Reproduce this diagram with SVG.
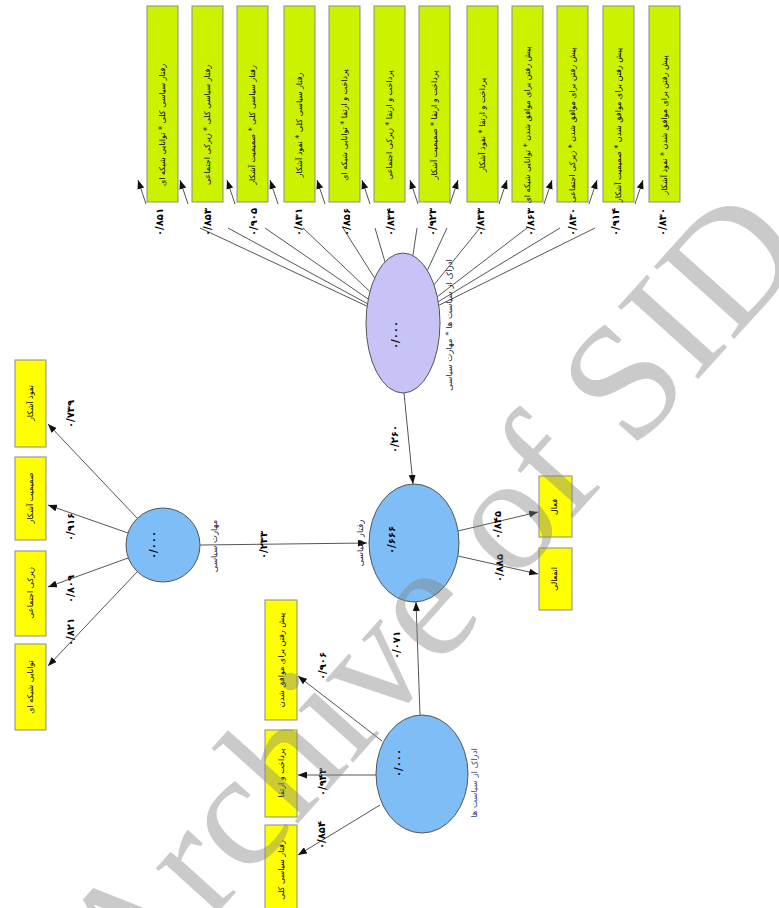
<svg xmlns="http://www.w3.org/2000/svg" width="779" height="908" viewBox="0 0 779 908">
<defs>
<marker id="ah" markerUnits="userSpaceOnUse" markerWidth="9" markerHeight="7" refX="9" refY="3.5" orient="auto">
<path d="M0,0 L9,3.5 L0,7 z" fill="#111"/>
</marker>
<style>
.bl{fill:#ccf200;stroke:#8a8a8a;stroke-width:1}
.by{fill:#ffff00;stroke:#8a8a8a;stroke-width:1}
.lv{fill:#7fbdf7;stroke:#555;stroke-width:1}
.lp{fill:#c7c3f6;stroke:#555;stroke-width:1}
.c{stroke:#555;stroke-width:1;fill:none;marker-end:url(#ah)}
.t{font-family:"DejaVu Sans",sans-serif;font-size:8px;fill:#000;text-anchor:middle}
.n{font-family:"DejaVu Sans",sans-serif;font-size:10px;font-weight:bold;fill:#000;text-anchor:middle}
.lb{font-family:"DejaVu Sans",sans-serif;font-size:8.5px;fill:#223;text-anchor:middle}
.wm{font-family:"Liberation Serif",serif;font-size:165px;fill:#808080;fill-opacity:0.42}
</style>
</defs>

<g id="connectors">
<path class="c" d="M367.1,306.2 L200,228 M146,204 L138,180"/>
<path class="c" d="M367.4,303.7 L228,228 M188,204 L180,180"/>
<path class="c" d="M368.2,299.1 L265,228 M235,204 L227,180"/>
<path class="c" d="M369.9,291.6 L303,228 M278,204 L270,180"/>
<path class="c" d="M374.6,278.1 L343,228 M325,204 L317,180"/>
<path class="c" d="M385,261.9 L375,228 M370,204 L362,180"/>
<path class="c" d="M412.9,255.6 L417,228 M418,204 L410,180"/>
<path class="c" d="M427.4,270.3 L447,228 M450,204 L458,180"/>
<path class="c" d="M434,284.8 L480,228 M499,204 L507,180"/>
<path class="c" d="M437.3,296.7 L527,228 M544,204 L552,180"/>
<path class="c" d="M438.2,301.7 L560,228 M589,204 L597,180"/>
<path class="c" d="M438.8,305.3 L595,228 M635,204 L643,180"/>

<path class="c" d="M137,518 L48,424"/>
<path class="c" d="M128,533 L48,505"/>
<path class="c" d="M128,558 L48,587"/>
<path class="c" d="M137,572 L48,666"/>

<path class="c" d="M200,545 L367,543"/>
<path class="c" d="M404,393 L413,484"/>
<path class="c" d="M420,715 L416,602"/>
<path class="c" d="M458,531 L538,512"/>
<path class="c" d="M458,556 L538,574"/>

<path class="c" d="M382,741 L298,676"/>
<path class="c" d="M376,775 L298,775"/>
<path class="c" d="M380,805 L298,855"/>
</g>

<g id="path-labels">
<text class="n" transform="translate(159,222) rotate(-90)" dy=".35em">۰/۸۵۱</text>
<text class="n" transform="translate(207,222) rotate(-90)" dy=".35em">۰/۸۵۳</text>
<text class="n" transform="translate(253,222) rotate(-90)" dy=".35em">۰/۹۰۵</text>
<text class="n" transform="translate(298,222) rotate(-90)" dy=".35em">۰/۸۳۱</text>
<text class="n" transform="translate(346,222) rotate(-90)" dy=".35em">۰/۸۵۶</text>
<text class="n" transform="translate(390,222) rotate(-90)" dy=".35em">۰/۸۳۴</text>
<text class="n" transform="translate(432,222) rotate(-90)" dy=".35em">۰/۹۲۳</text>
<text class="n" transform="translate(480,222) rotate(-90)" dy=".35em">۰/۸۳۳</text>
<text class="n" transform="translate(530,222) rotate(-90)" dy=".35em">۰/۸۶۳</text>
<text class="n" transform="translate(572,222) rotate(-90)" dy=".35em">۰/۸۳۰</text>
<text class="n" transform="translate(615,222) rotate(-90)" dy=".35em">۰/۹۱۴</text>
<text class="n" transform="translate(662,222) rotate(-90)" dy=".35em">۰/۸۳۰</text>

<text class="n" transform="translate(70,414) rotate(-90)" dy=".35em">۰/۷۳۹</text>
<text class="n" transform="translate(70,527) rotate(-90)" dy=".35em">۰/۹۱۶</text>
<text class="n" transform="translate(70,589) rotate(-90)" dy=".35em">۰/۸۰۹</text>
<text class="n" transform="translate(70,632) rotate(-90)" dy=".35em">۰/۸۲۱</text>

<text class="n" transform="translate(263,545) rotate(-90)" dy=".35em">۰/۲۳۳</text>
<text class="n" transform="translate(394,439) rotate(-90)" dy=".35em">۰/۲۶۰</text>
<text class="n" transform="translate(396,645) rotate(-90)" dy=".35em">۰/۰۷۱</text>
<text class="n" transform="translate(497,525) rotate(-90)" dy=".35em">۰/۸۴۵</text>
<text class="n" transform="translate(499,568) rotate(-90)" dy=".35em">۰/۸۸۵</text>

<text class="n" transform="translate(322,666) rotate(-90)" dy=".35em">۰/۹۰۶</text>
<text class="n" transform="translate(322,782) rotate(-90)" dy=".35em">۰/۹۴۳</text>
<text class="n" transform="translate(321,835) rotate(-90)" dy=".35em">۰/۸۵۴</text>
</g>

<g id="ind-top-1"><rect class="bl" x="147" y="6" width="31" height="196"/><text class="t" transform="translate(162.5,125) rotate(-90)" dy=".35em">رفتار سیاسی کلی * توانایی شبکه ای</text></g>
<g id="ind-top-2"><rect class="bl" x="192" y="6" width="31" height="196"/><text class="t" transform="translate(207.5,125) rotate(-90)" dy=".35em">رفتار سیاسی کلی * زیرکی اجتماعی</text></g>
<g id="ind-top-3"><rect class="bl" x="237" y="6" width="31" height="196"/><text class="t" transform="translate(252.5,125) rotate(-90)" dy=".35em">رفتار سیاسی کلی * صمیمیت آشکار</text></g>
<g id="ind-top-4"><rect class="bl" x="284" y="6" width="31" height="196"/><text class="t" transform="translate(299.5,125) rotate(-90)" dy=".35em">رفتار سیاسی کلی * نفوذ آشکار</text></g>
<g id="ind-top-5"><rect class="bl" x="329" y="6" width="31" height="196"/><text class="t" transform="translate(344.5,125) rotate(-90)" dy=".35em">پرداخت و ارتقا * توانایی شبکه ای</text></g>
<g id="ind-top-6"><rect class="bl" x="374" y="6" width="31" height="196"/><text class="t" transform="translate(389.5,125) rotate(-90)" dy=".35em">پرداخت و ارتقا * زیرکی اجتماعی</text></g>
<g id="ind-top-7"><rect class="bl" x="419" y="6" width="31" height="196"/><text class="t" transform="translate(434.5,125) rotate(-90)" dy=".35em">پرداخت و ارتقا * صمیمیت آشکار</text></g>
<g id="ind-top-8"><rect class="bl" x="467" y="6" width="31" height="196"/><text class="t" transform="translate(482.5,125) rotate(-90)" dy=".35em">پرداخت و ارتقا * نفوذ آشکار</text></g>
<g id="ind-top-9"><rect class="bl" x="512" y="6" width="31" height="196"/><text class="t" transform="translate(527.5,125) rotate(-90)" dy=".35em">پیش رفتن برای موافق شدن * توانایی شبکه ای</text></g>
<g id="ind-top-10"><rect class="bl" x="557" y="6" width="31" height="196"/><text class="t" transform="translate(572.5,125) rotate(-90)" dy=".35em">پیش رفتن برای موافق شدن * زیرکی اجتماعی</text></g>
<g id="ind-top-11"><rect class="bl" x="603" y="6" width="31" height="196"/><text class="t" transform="translate(618.5,125) rotate(-90)" dy=".35em">پیش رفتن برای موافق شدن * صمیمیت آشکار</text></g>
<g id="ind-top-12"><rect class="bl" x="649" y="6" width="31" height="196"/><text class="t" transform="translate(664.5,125) rotate(-90)" dy=".35em">پیش رفتن برای موافق شدن * نفوذ آشکار</text></g>

<g id="ind-left-1"><rect class="by" x="15" y="360" width="31" height="87"/><text class="t" transform="translate(30.5,403) rotate(-90)" dy=".35em">نفوذ آشکار</text></g>
<g id="ind-left-2"><rect class="by" x="15" y="457" width="31" height="83"/><text class="t" transform="translate(30.5,498) rotate(-90)" dy=".35em">صمیمیت آشکار</text></g>
<g id="ind-left-3"><rect class="by" x="15" y="551" width="31" height="85"/><text class="t" transform="translate(30.5,593) rotate(-90)" dy=".35em">زیرکی اجتماعی</text></g>
<g id="ind-left-4"><rect class="by" x="15" y="644" width="31" height="86"/><text class="t" transform="translate(30.5,687) rotate(-90)" dy=".35em">توانایی شبکه ای</text></g>

<g id="ind-bottom-1"><rect class="by" x="265" y="600" width="32" height="120"/><text class="t" transform="translate(281,660) rotate(-90)" dy=".35em">پیش رفتن برای موافق شدن</text></g>
<g id="ind-bottom-2"><rect class="by" x="265" y="730" width="32" height="87"/><text class="t" transform="translate(281,773) rotate(-90)" dy=".35em">پرداخت و ارتقا</text></g>
<g id="ind-bottom-3"><rect class="by" x="265" y="825" width="32" height="100"/><text class="t" transform="translate(281,870) rotate(-90)" dy=".35em">رفتار سیاسی کلی</text></g>

<g id="ind-right-1"><rect class="by" x="539" y="476" width="33" height="61"/><text class="t" transform="translate(554,507) rotate(-90)" dy=".35em">فعال</text></g>
<g id="ind-right-2"><rect class="by" x="539" y="548" width="33" height="62"/><text class="t" transform="translate(554,579) rotate(-90)" dy=".35em">انفعالی</text></g>

<g id="lv-skill"><circle class="lv" cx="163" cy="545" r="37"/><text class="n" transform="translate(153,545) rotate(-90)" dy=".35em">۰/۰۰۰</text><text class="lb" transform="translate(214,546) rotate(-90)" dy=".35em">مهارت سیاسی</text></g>
<g id="lv-behavior"><ellipse class="lv" cx="414" cy="543" rx="45" ry="59"/><text class="n" transform="translate(391,540) rotate(-90)" dy=".35em">۰/۶۶۶</text><text class="lb" transform="translate(360,543) rotate(-90)" dy=".35em">رفتار سیاسی</text></g>
<g id="lv-interaction"><ellipse class="lp" cx="403" cy="323" rx="37" ry="70"/><text class="n" transform="translate(395,335) rotate(-90)" dy=".35em">۰/۰۰۰</text><text class="lb" transform="translate(449,325) rotate(-90)" dy=".35em">ادراک از سیاست ها * مهارت سیاسی</text></g>
<g id="lv-perception"><ellipse class="lv" cx="422" cy="774" rx="46" ry="59"/><text class="n" transform="translate(398,763) rotate(-90)" dy=".35em">۰/۰۰۰</text><text class="lb" transform="translate(474,783) rotate(-90)" dy=".35em" style="fill:#334a80">ادراک از سیاست ها</text></g>

<text class="wm" transform="translate(130,1010) rotate(-48)">Archive of SID</text>
</svg>
